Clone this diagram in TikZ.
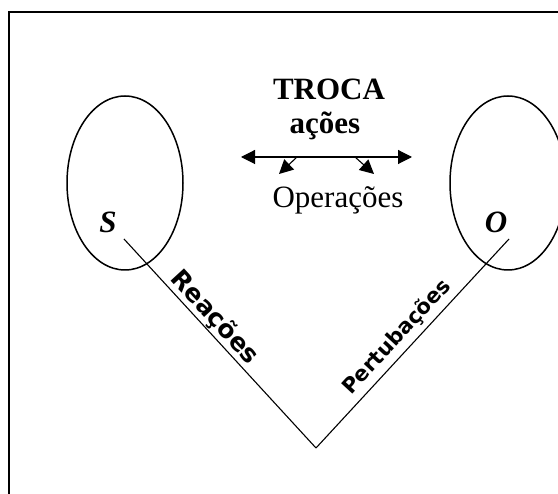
\documentclass[tikz,border=0pt]{standalone}
\usepackage{fontspec}
\setmainfont{Liberation Serif}
\newfontfamily\lblfont{DejaVu Sans}
\usetikzlibrary{arrows.meta,shapes.geometric}
\begin{document}
\begin{tikzpicture}[x=1pt,y=-1pt,
  thinline/.style={line width=1.1pt},
  blob/.style={ellipse,draw,line width=1.5pt,minimum width=116pt,minimum height=174pt,inner sep=0pt},
  tip/.style={-{Triangle[length=14pt,width=14pt]}},
  bigbold/.style={font=\fontsize{31}{31}\selectfont\bfseries,inner sep=0pt},
  sidelabel/.style={sloped,inner sep=1pt,anchor=south}]
\useasboundingbox (0,0) rectangle (558,494);
\begin{scope}
\clip (0,0) rectangle (558,494);
\draw[line width=2.2pt] (9,520) -- (9,12) -- (600,12);
\node[blob] (ls) at (125,183) {};
\node[blob] (rs) at (508,183) {};
\end{scope}
\node[bigbold,anchor=base] (troca) at (329,100) {TROCA};
\node[bigbold,anchor=base] (acoes) at (325,134) {ações};
\node[font=\fontsize{31}{31}\selectfont,anchor=base,inner sep=0pt] (ops) at (338,208) {Operações};
\node[font=\fontsize{31}{31}\selectfont\bfseries\itshape,anchor=base,inner sep=0pt] (S) at (108,233) {S};
\node[font=\fontsize{31}{31}\selectfont\bfseries\itshape,anchor=base,inner sep=0pt] (O) at (496,233) {O};
\coordinate (al) at (241,157);
\coordinate (ar) at (412,157);
\coordinate (mid1) at (297,157);
\coordinate (mid2) at (355,157);
\coordinate (d1) at (279,174);
\coordinate (d2) at (374,174);
\draw[thinline,tip] (mid1) -- (al);
\draw[thinline,tip] (mid2) -- (ar);
\draw[thinline] (mid1) -- (mid2);
\draw[thinline,tip] (mid1) -- (d1);
\draw[thinline,tip] (mid2) -- (d2);
\coordinate (ps) at (124,239);
\coordinate (v) at (316,448);
\coordinate (po) at (509,239);
\draw[thinline] (ps) -- (v) node[pos=0.42,sidelabel,font={\fontsize{25}{25}\selectfont\lblfont\bfseries}] (reac) {Reações};
\draw[thinline] (v) -- (po) node[pos=0.48,sidelabel,inner sep=5pt,font={\fontsize{21}{21}\selectfont\lblfont\bfseries}] (pert) {Pertubações};
\end{tikzpicture}
\end{document}
